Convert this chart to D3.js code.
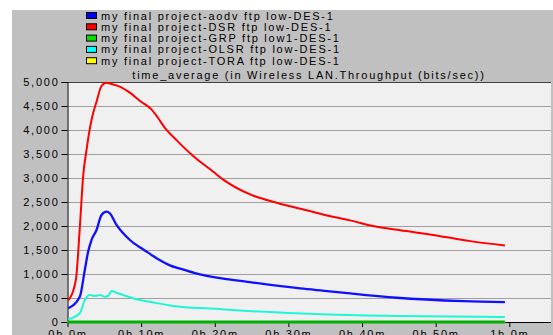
<!DOCTYPE html>
<html>

<head>
    <style>
    body { margin: 0; background: #fff; }
    text { font-family: "Liberation Sans", Arial, sans-serif; font-size: 11px; letter-spacing: 1.75px; fill: #000; }
    </style>
</head>

<body>
    <svg width="553" height="335"></svg>
    <script src="https://d3js.org/d3.v7.min.js"></script>
    <script>

        // series (time in minutes, throughput in bits/sec)
        var seriesNames = [
            "my final project-aodv ftp low-DES-1",
            "my final project-DSR ftp low-DES-1",
            "my final project-GRP ftp low1-DES-1",
            "my final project-OLSR ftp low-DES-1",
            "my final project-TORA ftp low-DES-1"
        ];
        var legendColors = ["#0000ff", "#ff0000", "#00e000", "#00ffff", "#ffff00"];

        var aodvTime = [0.1, 1.67, 2.35, 2.8, 3.26, 3.94, 4.62, 5.3, 5.75, 6.66, 8.47, 10.3, 11.2, 12.5, 13.9, 15.3, 18, 24.8, 31.6, 35.6, 38.4, 44.7, 53.8, 59.4];
        var aodvVals = [285, 527, 1083, 1465, 1708, 1917, 2229, 2298, 2264, 2021, 1708, 1510, 1420, 1290, 1180, 1110, 990, 830, 699, 640, 595, 505, 434, 413];

        var dsrTime = [0.1, 1.13, 1.67, 2.12, 2.58, 3.26, 3.94, 4.62, 5.3, 5.98, 7.1, 8.46, 9.8, 11.4, 12.3, 13.2, 14.8, 17.07, 19.8, 21.1, 24.8, 28.4, 32.9, 35.6, 38.4, 41.5, 45.2, 49.2, 54.7, 59.4];
        var dsrVals = [450, 875, 1960, 3030, 3583, 4208, 4590, 4917, 4986, 4958, 4903, 4778, 4611, 4430, 4250, 4050, 3790, 3458, 3130, 2972, 2659, 2486, 2311, 2207, 2117, 1998, 1910, 1825, 1685, 1595];

        var grpTime = [0, 10, 20, 30, 40, 50, 59.4];
        var grpVals = [0, 0, 0, 0, 0, 0, 0];

        var olsrTime = [0.1, 1.67, 2.35, 3.03, 3.71, 4.4, 5.07, 5.5, 5.98, 6.66, 9.8, 11.2, 14.3, 20.2, 23.4, 35.6, 45.2, 59.4];
        var olsrVals = [56, 181, 458, 563, 542, 563, 527, 542, 646, 610, 458, 421, 335, 275, 240, 156, 125, 105];

        var toraTime = [0, 10, 20, 30, 40, 50, 59.4];
        var toraVals = [0, 0, 0, 0, 0, 0, 0];

        var xTicks = [0, 10, 20, 30, 40, 50, 60];
        var xTickLabels = ["0h 0m", "0h 10m", "0h 20m", "0h 30m", "0h 40m", "0h 50m", "1h 0m"];
        var yTicks = [0, 500, 1000, 1500, 2000, 2500, 3000, 3500, 4000, 4500, 5000];

        var svg = d3.select("svg"),
            plotL = 67.5, plotT = 82, plotR = 551, plotB = 322;

        var x = d3.scaleLinear().domain([0, 60]).range([plotL, 509.3]);
        var y = d3.scaleLinear().domain([0, 5000]).range([plotB, plotT]);

        // window backgrounds
        svg.append("rect").attr("x", 12).attr("y", 10).attr("width", 541).attr("height", 325).attr("fill", "#c0c0c0");
        svg.append("rect").attr("x", plotL).attr("y", plotT).attr("width", plotR - plotL).attr("height", plotB - plotT).attr("fill", "#f0f0f0");

        // gridlines
        svg.append("g")
            .selectAll("line")
            .data(yTicks.slice(1, -1))
            .enter().append("line")
            .attr("x1", plotL).attr("x2", plotR)
            .attr("y1", function (d) { return Math.round(y(d)) + 0.5; })
            .attr("y2", function (d) { return Math.round(y(d)) + 0.5; })
            .attr("stroke", "#a0a0a0")
            .attr("stroke-width", 1);

        // top border
        svg.append("line").attr("x1", plotL).attr("x2", plotR).attr("y1", plotT + 0.5).attr("y2", plotT + 0.5)
            .attr("stroke", "#404040");

        // title
        svg.append("text")
            .attr("x", 309).attr("y", 79)
            .attr("text-anchor", "middle")
            .text("time_average (in Wireless LAN.Throughput (bits/sec))");

        // axes
        var yAxis = svg.append("g")
            .attr("transform", "translate(" + plotL + ",0)")
            .call(d3.axisLeft(y).tickValues(yTicks).tickFormat(d3.format(",")).tickSize(6).tickPadding(2));

        var xAxis = svg.append("g")
            .attr("transform", "translate(0," + plotB + ")")
            .call(d3.axisBottom(x).tickValues(xTicks)
                .tickFormat(function (d, i) { return xTickLabels[i]; })
                .tickSize(5).tickPadding(3));

        [yAxis, xAxis].forEach(function (a) {
            a.attr("font-family", null).attr("font-size", null);
            a.selectAll("line").attr("stroke", "#000");
            a.select(".domain").attr("stroke", "#000");
        });
        xAxis.select(".domain").attr("d", "M" + plotL + ",0.5H" + plotR);

        // lines
        var line = d3.line()
            .x(function (d) { return x(d[0]); })
            .y(function (d) { return y(d[1]); })
            .curve(d3.curveMonotoneX);

        var series = [
            { t: toraTime, v: toraVals, color: "#ffff00", w: 2 },
            { t: olsrTime, v: olsrVals, color: "#20f5d5", w: 2 },
            { t: aodvTime, v: aodvVals, color: "#1010ff", w: 2.3 },
            { t: dsrTime, v: dsrVals, color: "#ff0000", w: 2 },
            { t: grpTime, v: grpVals, color: "#00b000", w: 3 }
        ];

        svg.append("g")
            .selectAll("path")
            .data(series)
            .enter().append("path")
            .attr("fill", "none")
            .attr("stroke", function (d) { return d.color; })
            .attr("stroke-width", function (d) { return d.w; })
            .attr("stroke-linejoin", "round")
            .attr("d", function (d) { return line(d3.zip(d.t, d.v)); });

        // legend
        var legend = svg.append("g")
            .selectAll("g")
            .data(seriesNames)
            .enter().append("g")
            .attr("transform", function (d, i) { return "translate(0," + (15.5 + i * 11.3) + ")"; });

        legend.append("rect")
            .attr("x", 86.5).attr("y", -3)
            .attr("width", 10).attr("height", 6)
            .attr("fill", function (d, i) { return legendColors[i]; })
            .attr("stroke", "#000");

        legend.append("text")
            .attr("x", 101).attr("y", 4)
            .text(function (d) { return d; });

    </script>
</body>

</html>
